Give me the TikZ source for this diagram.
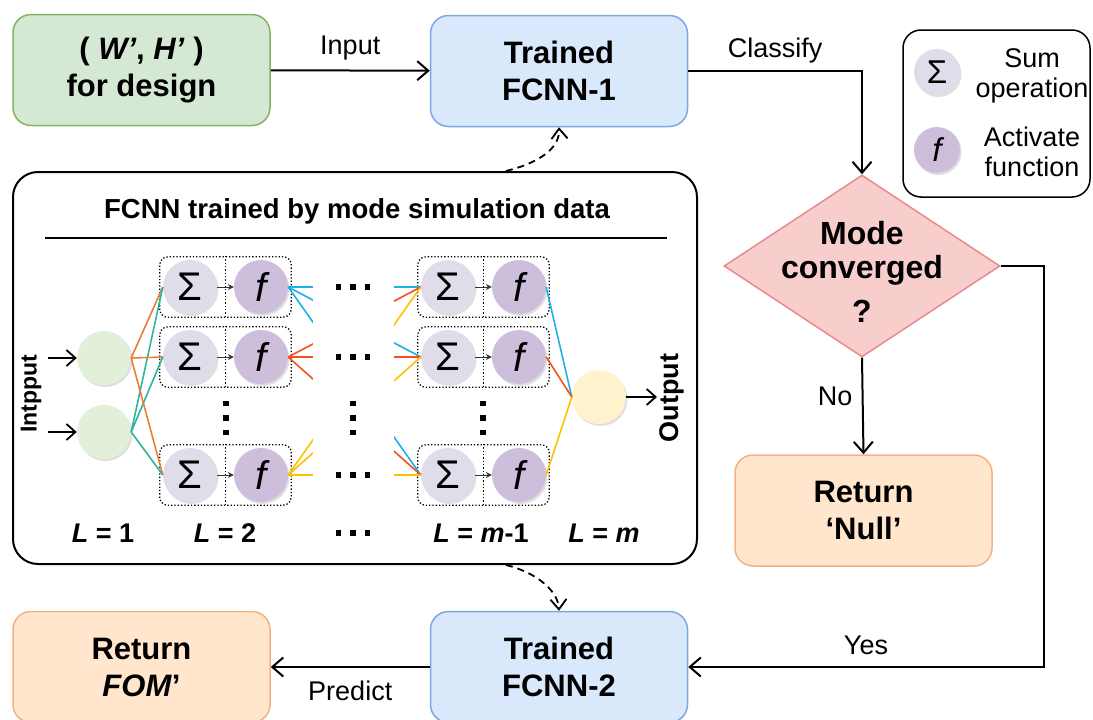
\documentclass[tikz,border=0pt]{standalone}
\usepackage{fontspec}
\setmainfont{Liberation Sans}
\usetikzlibrary{arrows.meta}
\usetikzlibrary{calc}
\usetikzlibrary{fit}
\usetikzlibrary{shapes.geometric}
\usetikzlibrary{shadows}

\definecolor{designfill}{HTML}{D5E8D4}
\definecolor{designdraw}{HTML}{82B366}
\definecolor{netfill}{HTML}{DAE8FC}
\definecolor{netdraw}{HTML}{7EA6E0}
\definecolor{returnfill}{HTML}{FFE6CC}
\definecolor{returndraw}{HTML}{F4B183}
\definecolor{decfill}{HTML}{F8CECC}
\definecolor{decdraw}{HTML}{E88A8F}
\definecolor{sumfill}{HTML}{E1DCEA}
\definecolor{actfill}{HTML}{CDBFDC}
\definecolor{infill}{HTML}{E2F0D9}
\definecolor{outfill}{HTML}{FFF2CC}
\definecolor{orangeline}{HTML}{ED7D31}
\definecolor{tealline}{HTML}{2DB5A0}
\definecolor{blueline}{HTML}{1FB0E8}
\definecolor{redline}{HTML}{F5501E}
\definecolor{yellowline}{HTML}{FFC000}

\newcommand{\rowdots}{\rule{5.5pt}{5.5pt}\hspace{9pt}\rule{5.5pt}{5.5pt}\hspace{9pt}\rule{5.5pt}{5.5pt}}

\begin{document}
\begin{tikzpicture}[x=1pt,y=-1pt,
    >={Straight Barb[length=11pt,width=19pt]},
    box/.style={rectangle,rounded corners=18pt,line width=1.5pt,minimum width=257pt,
      minimum height=111pt,align=center,font=\fontsize{31}{37}\selectfont\bfseries},
    designbox/.style={box,draw=designdraw,fill=designfill},
    netbox/.style={box,draw=netdraw,fill=netfill},
    returnbox/.style={box,draw=returndraw,fill=returnfill},
    decision/.style={diamond,draw=decdraw,fill=decfill,line width=1.5pt,inner sep=0pt,
      minimum width=276pt,minimum height=182pt},
    flow/.style={draw,line width=2pt,->},
    flowlabel/.style={font=\fontsize{27}{32}\selectfont},
    trainlink/.style={draw,line width=1.8pt,dash pattern=on 7pt off 5pt,
      -{Straight Barb[length=10pt,width=16pt]}},
    neuron/.style={circle,inner sep=0pt,minimum size=54pt,
      drop shadow={shadow xshift=1.5pt,shadow yshift=-2pt,opacity=.25}},
    sumnode/.style={neuron,fill=sumfill,font=\fontsize{40}{40}\selectfont},
    actnode/.style={neuron,fill=actfill,font=\fontsize{40}{40}\selectfont\itshape},
    group/.style={draw,dotted,line width=1.3pt,rounded corners=8pt,inner sep=3pt},
    link/.style={line width=1.6pt},
    smallflow/.style={line width=1.8pt,->,>={Straight Barb[length=9pt,width=16pt]}},
    nnlabel/.style={font=\fontsize{27}{30}\selectfont\bfseries}]

  \useasboundingbox (0,0) rectangle (1093,720);

  \node [designbox] (design) at (141.5,70) {( \textit{W’}, \textit{H’} )\\for design};
  \node [netbox] (fcnn1) at (559,71) {Trained\\FCNN-1};
  \node [decision] (conv) at (862,266) {};
  \node [align=center,font=\fontsize{32}{34}\selectfont\bfseries] at (862,272) {Mode\\converged\\[10pt]?};
  \node [returnbox] (null) at (863.5,510.5) {Return\\‘Null’};
  \node [netbox] (fcnn2) at (559,667) {Trained\\FCNN-2};
  \node [returnbox] (fom) at (141.5,667) {Return\\\textit{FOM}’};

  \node [draw,rectangle,rounded corners=18pt,line width=1.5pt,minimum width=187pt,minimum height=167pt] (legend) at (996.5,113.5) {};
  \node [neuron,fill=sumfill,minimum size=46pt,font=\fontsize{33}{34}\selectfont] (lsum) at (937,72) {Σ};
  \node [neuron,fill=actfill,minimum size=46pt,font=\fontsize{33}{34}\selectfont\itshape] (lact) at (937,150) {f};
  \node [align=center,font=\fontsize{27}{30}\selectfont] at (1032,76) {Sum\\operation};
  \node [align=center,font=\fontsize{27}{30}\selectfont] at (1032,152) {Activate\\function};

  \path [flow]
    (design) -- node [above=6pt,flowlabel] {Input} (fcnn1);
  \path [flow]
    (fcnn1.east) -| node [pos=0.25,above=4pt,flowlabel] {Classify} (conv.north);
  \path [flow]
    (conv.south) -- node [pos=0.4,left=6pt,flowlabel] {No} (null.north);
  \path [flow]
    (conv.east) -- ++(43,0) |- node [pos=0.75,above=8pt,flowlabel] {Yes} (fcnn2.east);
  \path [flow]
    (fcnn2.west) -- node [below=10pt,flowlabel] {Predict} (fom.east);

  \node [draw,rectangle,rounded corners=25pt,line width=2pt,minimum width=684pt,minimum height=392pt] (nn) at (355,368) {};
  \node [font=\fontsize{27.5}{30}\selectfont\bfseries] (nntitle) at (357,211) {FCNN trained by mode simulation data};
  \draw [line width=1.2pt] (45,238) -- (667,238);

  \path [trainlink] ($(nn.north west)!0.72!(nn.north east)$) .. controls (535,164) and (560,150) .. (fcnn1.south);
  \path [trainlink] ($(nn.south west)!0.72!(nn.south east)$) .. controls (535,572) and (558,590) .. (fcnn2.north);

  \node [neuron,fill=infill] (in1) at (104,358) {};
  \node [neuron,fill=infill] (in2) at (104,432) {};
  \node [neuron,fill=outfill] (out) at (599,397) {};

  \foreach \j/\y in {1/287,2/357,3/475} {
    \node [sumnode] (s2\j) at (190,\y) {Σ};
    \node [actnode] (f2\j) at (261,\y) {f};
    \node [sumnode] (sm\j) at (448,\y) {Σ};
    \node [actnode] (fm\j) at (519,\y) {f};
    \node [group,fit=(s2\j) (f2\j)] (g2\j) {};
    \node [group,fit=(sm\j) (fm\j)] (gm\j) {};
    \draw [dotted,line width=1.3pt] (g2\j.north) -- (g2\j.south);
    \draw [dotted,line width=1.3pt] (gm\j.north) -- (gm\j.south);
    \draw [line width=1pt,black!80,-{Stealth[length=6pt,width=6pt]}] (s2\j) -- (f2\j);
    \draw [line width=1pt,black!80,-{Stealth[length=6pt,width=6pt]}] (sm\j) -- (fm\j);
  }

  \foreach \j in {1,2,3} {
    \draw [link,orangeline] (in1.east) -- (s2\j.west);
    \draw [link,tealline] (in2.east) -- (s2\j.west);
  }
  \foreach \i/\c in {1/blueline,2/redline,3/yellowline} {
    \foreach \j in {1,2,3}
      \draw [link,\c] (f2\i.east) -- (sm\j.west);
    \draw [link,\c] (fm\i.east) -- (out.west);
  }
  \fill [white] (313,252) rectangle (394,512);
  \foreach \j/\y in {1/287,2/357,3/475}
    \node (dots\j) at (353,\y) {\rowdots};

  \foreach \x in {226,353,483}
    \node [rotate=90] at (\x,418) {\rowdots};

  \coordinate (inA) at (48,358);
  \coordinate (inB) at (48,432);
  \coordinate (outA) at (657,397);
  \draw [smallflow] (inA) -- (in1);
  \draw [smallflow] (inB) -- (in2);
  \draw [smallflow] (out) -- (outA);
  \node [rotate=90,font=\fontsize{23}{26}\selectfont\bfseries] at (31,394) {Intpput};
  \node [rotate=90,font=\fontsize{27}{30}\selectfont\bfseries] at (672,398) {Output};

  \node [nnlabel] at (103,533) {\textit{L} = 1};
  \node [nnlabel] at (225,533) {\textit{L} = 2};
  \node at (353,533) {\rowdots};
  \node [nnlabel] at (481,533) {\textit{L} = \textit{m}-1};
  \node [nnlabel] at (604,533) {\textit{L} = \textit{m}};

\end{tikzpicture}
\end{document}
